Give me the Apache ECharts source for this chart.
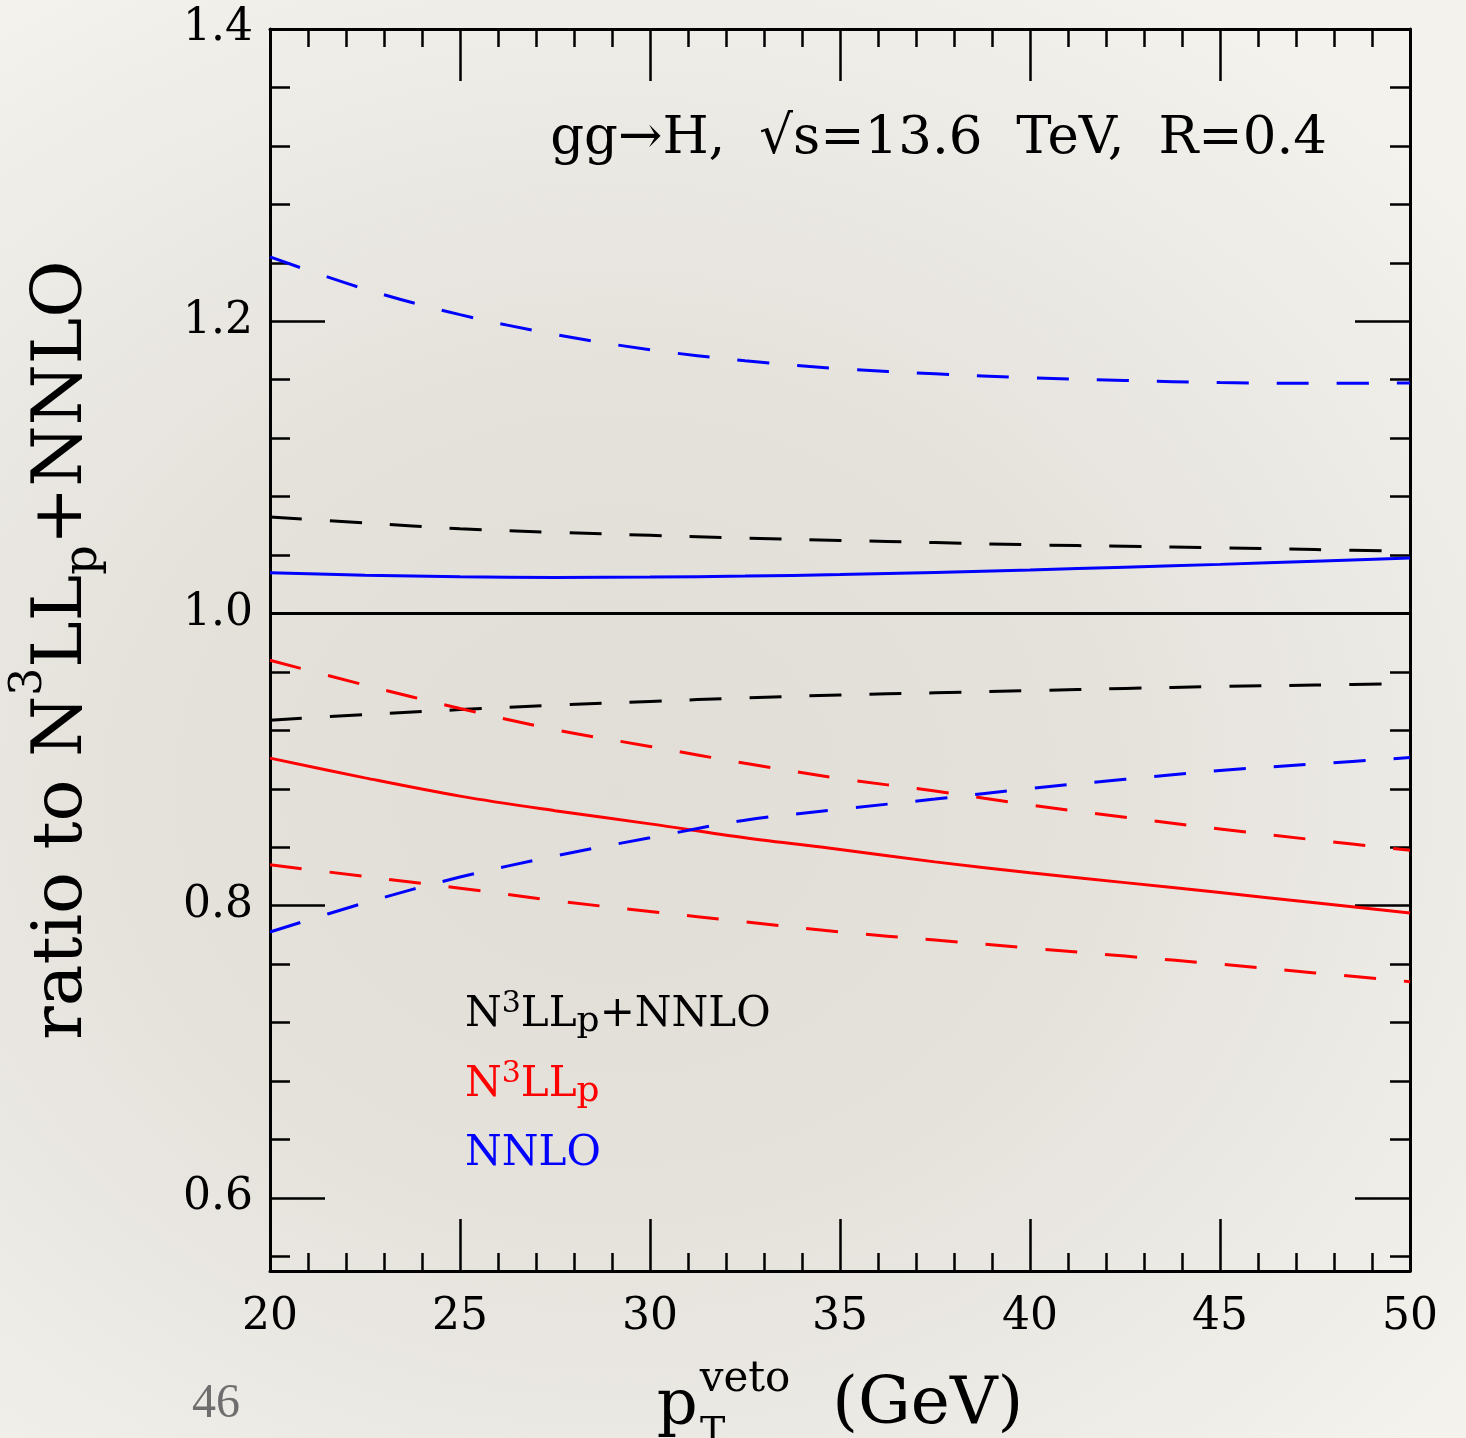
<!DOCTYPE html>
<html><head><meta charset="utf-8">
<script src="https://cdn.jsdelivr.net/npm/echarts@6/dist/echarts.min.js"></script>
<style>
html,body{margin:0;padding:0;width:1466px;height:1438px;overflow:hidden;}
body{background: radial-gradient(ellipse 75% 65% at 42% 55%, #e1ded8 0%, #e5e2dc 45%, #eeece7 80%, #f4f2ed 100%);}
#chart{width:1466px;height:1438px;}
</style></head><body><div id="chart"></div>
<script>
// ---- data ----
const pTveto = [20, 22.5, 25, 27.5, 30, 32.5, 35, 37.5, 40, 42.5, 45, 47.5, 50];
// N3LLp+NNLO (black): central and scale-variation band edges
const matchedCentral = [1, 1, 1, 1, 1, 1, 1, 1, 1, 1, 1, 1, 1];
const matchedUpper = [1.066, 1.062, 1.058, 1.0555, 1.0535, 1.0515, 1.050, 1.0485, 1.047, 1.046, 1.045, 1.0437, 1.0425];
const matchedLower = [0.927, 0.9308, 0.9342, 0.9372, 0.9398, 0.9422, 0.9442, 0.9457, 0.9472, 0.9487, 0.950, 0.951, 0.952];
// N3LLp (red)
const resumCentral = [0.901, 0.8875, 0.875, 0.865, 0.856, 0.8465, 0.8385, 0.830, 0.8225, 0.8158, 0.809, 0.802, 0.795];
const resumUpper = [0.968, 0.951, 0.935, 0.9205, 0.909, 0.8975, 0.887, 0.8785, 0.869, 0.8605, 0.8525, 0.845, 0.838];
const resumLower = [0.828, 0.820, 0.812, 0.8035, 0.796, 0.789, 0.782, 0.7765, 0.771, 0.7655, 0.760, 0.754, 0.748];
// NNLO (blue)
const fixedCentral = [1.0278, 1.0262, 1.0252, 1.0247, 1.0249, 1.0256, 1.0266, 1.0281, 1.0298, 1.0317, 1.0336, 1.0358, 1.038];
const fixedUpper = [1.244, 1.222, 1.2045, 1.191, 1.1805, 1.173, 1.1675, 1.164, 1.1613, 1.1595, 1.158, 1.1575, 1.1578];
const fixedLower = [0.782, 0.802, 0.8196, 0.834, 0.8465, 0.8585, 0.866, 0.873, 0.8802, 0.8865, 0.8925, 0.897, 0.9014];
// axis ticks
const yMajorTicks = [0.6, 0.8, 1.0, 1.2, 1.4];
const yMinorTicks = [0.56, 0.64, 0.68, 0.72, 0.76, 0.84, 0.88, 0.92, 0.96, 1.04, 1.08, 1.12, 1.16, 1.24, 1.28, 1.32, 1.36];
const titleText = 'gg\u2192H,  \u221As=13.6  TeV,  R=0.4';

const FONT = '"DejaVu Serif", serif';
const BLACK = '#000000', RED = '#ff0000', BLUE = '#0000ff';
const DASH = [32, 28];

function mk(name, ys, color, dashed) {
  return {
    type: 'line', name: name, xAxisIndex: 0, yAxisIndex: 0,
    data: pTveto.map((x, i) => [x, ys[i]]),
    showSymbol: false, symbol: 'none', smooth: 0.35,
    lineStyle: { color: color, width: 3, type: dashed ? DASH : 'solid' },
    silent: true
  };
}

const tickStyle = { color: BLACK, width: 2.5 };
function xAx(pos, withLabel) {
  return {
    type: 'value', position: pos, min: 20, max: 50, interval: 5,
    axisLine: { show: true, onZero: false, lineStyle: { color: BLACK, width: 3 } },
    axisTick: { show: true, inside: true, length: 52, lineStyle: tickStyle },
    minorTick: { show: true, splitNumber: 5, length: 18, lineStyle: tickStyle },
    splitLine: { show: false }, minorSplitLine: { show: false },
    axisLabel: withLabel ? { show: true, fontFamily: FONT, fontSize: 44, color: BLACK, margin: 25 } : { show: false },
    name: withLabel ? '{p|p}{v|veto}{g|  (GeV)}' : '',
    nameLocation: 'middle', nameGap: 102,
    nameTextStyle: {
      color: BLACK, fontFamily: FONT,
      rich: {
        p: { fontFamily: FONT, fontSize: 64, lineHeight: 64, verticalAlign: 'bottom', padding: [0, 0, 0, 0], color: BLACK },
        v: { fontFamily: FONT, fontSize: 42, lineHeight: 42, verticalAlign: 'bottom', padding: [0, 0, 38, 2], color: BLACK },
        g: { fontFamily: FONT, fontSize: 66, lineHeight: 66, verticalAlign: 'bottom', padding: [0, 0, 0, 0], color: BLACK }
      }
    }
  };
}
function yAx(pos, ticks, len, line, withLabel) {
  return {
    type: 'value', position: pos, min: 0.55, max: 1.4,
    axisLine: { show: line, onZero: false, lineStyle: { color: BLACK, width: 3 } },
    axisTick: { show: true, inside: true, length: len, customValues: ticks, lineStyle: tickStyle },
    splitLine: { show: false },
    axisLabel: withLabel ? { show: true, customValues: yMajorTicks, formatter: v => v.toFixed(1), fontFamily: FONT, fontSize: 44, color: BLACK, margin: 17 } : { show: false },
    name: withLabel ? '{n|ratio to N}{sup|3}{n|LL}{sub|p}{n|+NNLO}' : '',
    nameLocation: 'middle', nameGap: 163, nameRotate: 90,
    nameTextStyle: {
      color: BLACK, fontFamily: FONT,
      rich: {
        n: { fontFamily: FONT, fontSize: 70, lineHeight: 70, verticalAlign: 'bottom', padding: [0, 0, 9, 0], color: BLACK },
        sup: { fontFamily: FONT, fontSize: 44, lineHeight: 44, verticalAlign: 'bottom', padding: [0, 0, 55, 0], color: BLACK },
        sub: { fontFamily: FONT, fontSize: 46, lineHeight: 46, verticalAlign: 'bottom', padding: [0, 0, 0, 0], color: BLACK }
      }
    }
  };
}

function legendRich(color) {
  return {
    n: { fontFamily: FONT, fontSize: 42, lineHeight: 42, verticalAlign: 'bottom', padding: [0, 0, 4, 0], fill: color },
    sup: { fontFamily: FONT, fontSize: 30, lineHeight: 30, verticalAlign: 'bottom', padding: [0, 0, 21, 0], fill: color },
    sub: { fontFamily: FONT, fontSize: 36, lineHeight: 36, verticalAlign: 'bottom', padding: [0, 0, 0, 0], fill: color }
  };
}

const chart = echarts.init(document.getElementById('chart'), null, { renderer: 'canvas' });
chart.setOption({
  animation: false,
  backgroundColor: 'transparent',
  grid: { left: 270, right: 56, top: 29, bottom: 167, containLabel: false, outerBoundsMode: 'none' },
  title: {
    text: titleText, right: 134, top: 108,
    textStyle: { fontFamily: FONT, fontSize: 53, fontWeight: 'normal', color: BLACK }
  },
  xAxis: [xAx('bottom', true), xAx('top', false)],
  yAxis: [
    yAx('left', yMajorTicks, 55, true, true),
    yAx('left', yMinorTicks, 20, false, false),
    yAx('right', yMajorTicks, 55, true, false),
    yAx('right', yMinorTicks, 20, false, false)
  ],
  series: [
    mk('N3LLp+NNLO', matchedCentral, BLACK, false),
    mk('N3LLp+NNLO upper', matchedUpper, BLACK, true),
    mk('N3LLp+NNLO lower', matchedLower, BLACK, true),
    mk('N3LLp', resumCentral, RED, false),
    mk('N3LLp upper', resumUpper, RED, true),
    mk('N3LLp lower', resumLower, RED, true),
    mk('NNLO', fixedCentral, BLUE, false),
    mk('NNLO upper', fixedUpper, BLUE, true),
    mk('NNLO lower', fixedLower, BLUE, true)
  ],
  graphic: [
    { type: 'text', left: 465, top: 989, style: { text: '{n|N}{sup|3}{n|LL}{sub|p}{n|+NNLO}', rich: legendRich(BLACK), fill: BLACK } },
    { type: 'text', left: 465, top: 1059, style: { text: '{n|N}{sup|3}{n|LL}{sub|p}', rich: legendRich(RED), fill: RED } },
    { type: 'text', left: 465, top: 1133, style: { text: '{n|NNLO}', rich: legendRich(BLUE), fill: BLUE } },
    { type: 'text', left: 700, top: 1414, style: { text: 'T', fontFamily: FONT, fontSize: 38, fill: BLACK } },
    { type: 'text', left: 192, top: 1380, style: { text: '46', fontFamily: '"Liberation Serif", serif', fontSize: 48, fill: '#6e6e6e' } }
  ]
});
</script></body></html>
